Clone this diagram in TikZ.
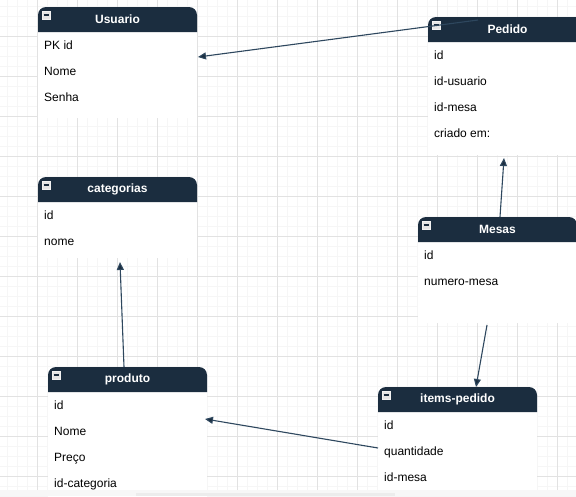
\documentclass[tikz,border=0pt]{standalone}
\usepackage{fontspec}
\setmainfont{Liberation Sans}
\usetikzlibrary{arrows.meta,calc}
\definecolor{hdrcol}{HTML}{1B2D3F}
\definecolor{linecol}{HTML}{2E475E}
\definecolor{minorgrid}{HTML}{F6F6F6}
\definecolor{majorgrid}{HTML}{E2E2E2}
\tikzset{
  tblbody/.style={fill=white, draw=none, minimum width=159, inner sep=0pt, outer sep=0pt},
  hdrtext/.style={text=white, font=\fontsize{12}{14}\selectfont\bfseries, inner sep=0pt},
  field/.style={text=black, font=\fontsize{12}{14}\selectfont, inner sep=0pt},
  conn/.style={draw=linecol, line width=1.1pt, -{Triangle[length=8pt,width=7pt,fill=hdrcol]}},
}
\newcommand\myentity[6]{%
  \node[tblbody, minimum height=#4, anchor=north west] (#1) at (#2,#3) {};
  \fill[hdrcol] ({#2},{#3+25}) [rounded corners=8] -- ({#2},{#3}) -- ({#2+159},{#3}) [sharp corners] -- ({#2+159},{#3+25}) -- cycle;
  \filldraw[fill=white!80!gray, draw=white!90!gray, line width=0.6pt] ({#2+4},{#3+4}) rectangle ({#2+12},{#3+12});
  \draw[hdrcol, line width=1.3pt] ({#2+5.5},{#3+8}) -- ({#2+10.5},{#3+8});
  \node[hdrtext] (#1hdr) at ({#2+79.5},{#3+12.5}) {#5};
  \foreach \t [count=\i] in {#6} {
    \node[field, anchor=west] (#1row\i) at ({#2+6},{#3+40+26*(\i-1)}) {\strut\t};
  }%
}
\begin{document}
\begin{tikzpicture}[x=1pt, y=-1pt]
\useasboundingbox (0,0) rectangle (576,496);
\clip (0,0) rectangle (576,496);
\fill[white] (0,0) rectangle (576,496);
% grid
\foreach \g in {7,17,...,577} \draw[minorgrid, line width=1pt] (\g,0) -- (\g,496);
\foreach \g in {6,16,...,496} \draw[minorgrid, line width=1pt] (0,\g) -- (576,\g);
\foreach \g in {37,77,...,577} \draw[majorgrid, line width=1pt] (\g,0) -- (\g,496);
\foreach \g in {36,76,...,496} \draw[majorgrid, line width=1pt] (0,\g) -- (576,\g);
% entities
\myentity{usuario}{38}{7}{111}{Usuario}{PK id,Nome,Senha}
\myentity{pedido}{428}{17}{138}{Pedido}{id,id-usuario,id-mesa,criado em:}
\myentity{categorias}{38}{177}{81}{categorias}{id,nome}
\myentity{mesas}{418}{217}{106}{Mesas}{id,numero-mesa}
\myentity{produto}{48}{367}{140}{produto}{id,Nome,Preço,id-categoria}
\myentity{items}{378}{387}{103}{items-pedido}{id,quantidade,id-mesa}
% connectors
\draw[conn] ($(pedido.north west)+(50,3)$) -- ($(usuario.north east)+(1,50)$);
\draw[conn] ($(mesas.north west)+(82,0)$) -- ($(pedido.south west)+(76,3)$);
\draw[conn] ($(mesas.south west)+(69,2)$) -- ($(items.north west)+(98,0)$);
\draw[conn] ($(items.north west)+(0,61)$) -- ($(produto.north west)+(157,52)$);
\draw[conn] ($(produto.north west)+(76,0)$) -- ($(categorias.south west)+(82,4)$);
% scrollbar
\fill[white!94!gray] (0,490) rectangle (576,496);
\fill[white!85!gray] (136,493) rectangle (395,496);
\end{tikzpicture}
\end{document}
